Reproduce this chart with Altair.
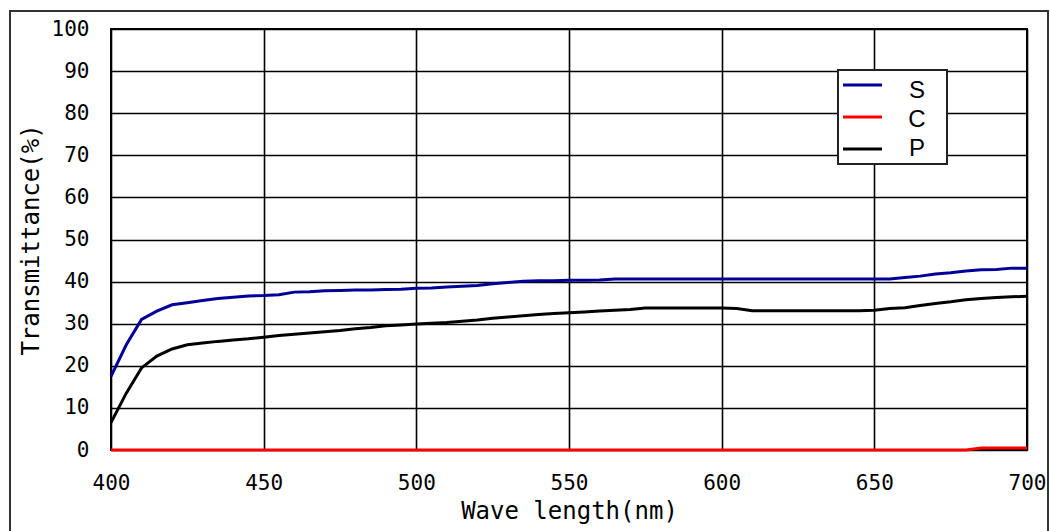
import altair as alt
import pandas as pd

wavelength = [400, 405, 410, 415, 420, 425, 430, 435, 440, 445, 450, 455, 460, 465, 470, 475,
              480, 485, 490, 495, 500, 505, 510, 515, 520, 525, 530, 535, 540, 545, 550, 555,
              560, 565, 570, 575, 580, 585, 590, 595, 600, 605, 610, 615, 620, 625, 630, 635,
              640, 645, 650, 655, 660, 665, 670, 675, 680, 685, 690, 695, 700]

s_values = [17.5, 25.0, 31.0, 33.0, 34.5, 35.0, 35.5, 36.0, 36.3, 36.6, 36.7, 36.9, 37.5, 37.6, 37.8, 37.9,
            38.0, 38.0, 38.1, 38.2, 38.4, 38.5, 38.7, 38.9, 39.1, 39.5, 39.8, 40.1, 40.2, 40.2, 40.3, 40.3,
            40.4, 40.6, 40.6, 40.6, 40.6, 40.6, 40.6, 40.6, 40.6, 40.6, 40.6, 40.6, 40.6, 40.6, 40.6, 40.6,
            40.6, 40.6, 40.6, 40.6, 41.0, 41.3, 41.8, 42.1, 42.5, 42.8, 42.9, 43.2, 43.2]

c_values = [0.0] * 57 + [0.5, 0.5, 0.5, 0.5]

p_values = [6.5, 13.5, 19.5, 22.3, 24.0, 25.0, 25.4, 25.8, 26.1, 26.4, 26.8, 27.2, 27.5, 27.8, 28.1, 28.4,
            28.8, 29.1, 29.5, 29.7, 29.9, 30.1, 30.3, 30.6, 30.9, 31.3, 31.6, 31.9, 32.2, 32.4, 32.6, 32.8,
            33.0, 33.2, 33.4, 33.7, 33.7, 33.7, 33.7, 33.7, 33.7, 33.6, 33.1, 33.1, 33.1, 33.1, 33.1, 33.1,
            33.1, 33.1, 33.2, 33.6, 33.8, 34.3, 34.8, 35.2, 35.7, 36.0, 36.2, 36.4, 36.5]

series_names = ["S", "C", "P"]
series_colors = ["#000099", "#ff0000", "#000000"]

x_ticks = [400, 450, 500, 550, 600, 650, 700]
y_ticks = [0, 10, 20, 30, 40, 50, 60, 70, 80, 90, 100]

rows = []
for name, vals in zip(series_names, [s_values, c_values, p_values]):
    for w, v in zip(wavelength, vals):
        rows.append({"wl": w, "value": v, "series": name})
df = pd.DataFrame(rows)

MONO = "DejaVu Sans Mono"

lines = alt.Chart(df).mark_line(strokeWidth=3, clip=False).encode(
    x=alt.X("wl:Q", scale=alt.Scale(domain=[400, 700], nice=False),
            axis=alt.Axis(values=x_ticks, title="Wave length(nm)", ticks=False, domain=False,
                          labelFlush=False, labelOverlap=False,
                          grid=True, gridColor="#000000", gridWidth=1.6, gridOpacity=1,
                          labelFont=MONO, labelFontSize=21, labelColor="#000000", labelPadding=22,
                          titleFont=MONO, titleFontSize=24, titleFontWeight="normal",
                          titleColor="#000000", titlePadding=6)),
    y=alt.Y("value:Q", scale=alt.Scale(domain=[0, 100], nice=False),
            axis=alt.Axis(values=y_ticks, title="Transmittance(%)", ticks=False, domain=False,
                          labelFlush=False, labelOverlap=False,
                          grid=True, gridColor="#000000", gridWidth=1.6, gridOpacity=1,
                          labelFont=MONO, labelFontSize=21, labelColor="#000000", labelPadding=22,
                          titleFont=MONO, titleFontSize=24, titleFontWeight="normal",
                          titleColor="#000000", titlePadding=8)),
    color=alt.Color("series:N", scale=alt.Scale(domain=series_names, range=series_colors), legend=None),
    detail="series:N",
)

one = alt.Data(values=[{}])

layers = [lines]

# legend box
layers.append(alt.Chart(one).mark_rect(fill="#ffffff", stroke="#222222", strokeWidth=2).encode(
    x=alt.value(727), x2=alt.value(836), y=alt.value(41), y2=alt.value(135)))

for i, (name, col) in enumerate(zip(series_names, series_colors)):
    layers.append(alt.Chart(one).mark_rule(color=col, strokeWidth=3).encode(
        x=alt.value(732), x2=alt.value(771), y=alt.value(56 + 32 * i)))
    layers.append(alt.Chart(one).mark_text(text=name, font="Liberation Sans", fontSize=24, color="#000000",
                                           align="center", baseline="middle").encode(
        x=alt.value(806), y=alt.value(62 + 29 * i)))

# outer frame
layers.append(alt.Chart(one).mark_rect(filled=False, stroke="#333333", strokeWidth=2, clip=False).encode(
    x=alt.value(-101), x2=alt.value(937), y=alt.value(-18), y2=alt.value(520)))

chart = alt.layer(*layers).properties(
    width=916, height=421,
    autosize=alt.AutoSizeParams(type="none"),
    padding={"left": 111, "top": 29, "right": 23, "bottom": 81},
    background="#ffffff",
).configure_view(stroke="#000000", strokeWidth=2)

chart.save("out.html", embed_options={"renderer": "svg", "actions": False})
